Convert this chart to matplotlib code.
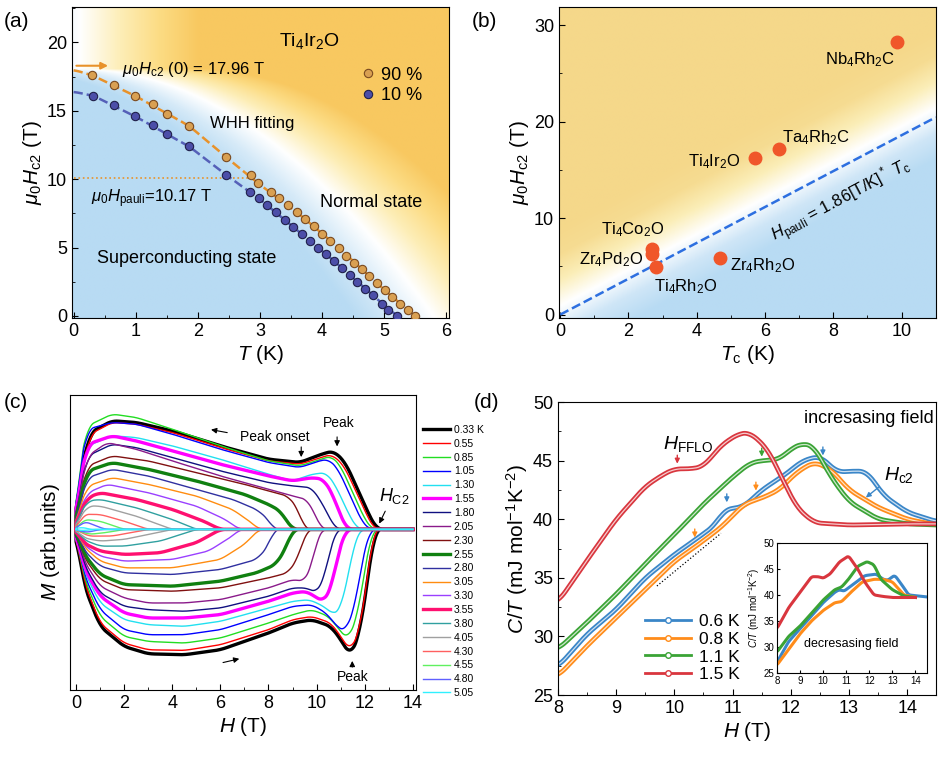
import numpy as np
import matplotlib
matplotlib.use("Agg")
import matplotlib.pyplot as plt
from matplotlib.colors import LinearSegmentedColormap
from matplotlib.ticker import MultipleLocator

plt.rcParams['font.family'] = ['Liberation Sans', 'DejaVu Sans']
plt.rcParams['mathtext.fontset'] = 'custom'
plt.rcParams['mathtext.rm'] = 'Liberation Sans'
plt.rcParams['mathtext.it'] = 'Liberation Sans:italic'

# ---------------- panel (a) data ----------------
a_T90 = [0.30, 0.65, 0.99, 1.28, 1.50, 1.86, 2.46, 2.86, 2.97, 3.18, 3.31, 3.46, 3.59, 3.73,
         3.87, 4.00, 4.13, 4.27, 4.39, 4.52, 4.64, 4.76, 4.88, 5.01, 5.13, 5.26, 5.38, 5.49]
a_H90 = [17.6, 16.9, 16.1, 15.5, 14.8, 13.9, 11.6, 10.3, 9.7, 9.1, 8.6, 8.1, 7.6, 7.1,
         6.6, 6.0, 5.5, 5.0, 4.4, 3.9, 3.4, 2.9, 2.4, 1.9, 1.4, 0.9, 0.4, 0.0]
a_T10 = [0.32, 0.65, 0.99, 1.28, 1.50, 1.86, 2.46, 2.84, 2.98, 3.12, 3.26, 3.40, 3.54, 3.67,
         3.80, 3.94, 4.07, 4.20, 4.32, 4.45, 4.57, 4.69, 4.82, 4.96, 5.07, 5.20]
a_H10 = [16.1, 15.4, 14.6, 14.0, 13.3, 12.4, 10.3, 9.1, 8.6, 8.1, 7.6, 7.0, 6.5, 6.0,
         5.5, 5.0, 4.5, 4.0, 3.5, 3.0, 2.5, 2.0, 1.5, 0.9, 0.4, 0.0]
fit90_T = [0.0, 0.30, 0.99, 1.86, 2.46, 2.97, 3.59, 4.27, 4.88, 5.49]
fit90_H = [18.0, 17.6, 16.1, 13.9, 11.6, 9.7, 7.6, 5.0, 2.4, 0.0]
fit10_T = [0.0, 0.32, 0.99, 1.86, 2.46, 2.98, 3.54, 4.20, 4.82, 5.20]
fit10_H = [16.4, 16.1, 14.6, 12.4, 10.3, 8.6, 6.5, 4.0, 1.5, 0.0]

# ---------------- panel (b) data ----------------
b_names = ["Nb$_4$Rh$_2$C", "Ta$_4$Rh$_2$C", "Ti$_4$Ir$_2$O", "Ti$_4$Co$_2$O",
           "Zr$_4$Pd$_2$O", "Ti$_4$Rh$_2$O", "Zr$_4$Rh$_2$O"]
b_Tc = [9.85, 6.4, 5.7, 2.68, 2.68, 2.8, 4.67]
b_Hc2 = [28.3, 17.2, 16.2, 6.8, 6.3, 4.9, 5.9]
b_pauli_T = [0.0, 11.0]

# ---------------- panel (c) data ----------------
c_temps = ["0.33 K", "0.55", "0.85", "1.05", "1.30", "1.55", "1.80", "2.05", "2.30", "2.55",
           "2.80", "3.05", "3.30", "3.55", "3.80", "4.05", "4.30", "4.55", "4.80", "5.05"]
c_up = [
    [(0,0),(0.15,1.6),(0.6,2.9),(1.5,3.25),(2.5,3.2),(4,2.95),(6,2.5),(8,2.1),(9.3,2.0),(10.2,2.25),(10.7,2.35),(11.2,2.0),(11.7,1.2),(12.2,0.4),(12.5,0),(14,0)],
    [(0,0),(0.15,1.5),(0.6,2.85),(1.5,3.2),(2.5,3.15),(4,2.9),(6,2.45),(8,2.05),(9.3,1.95),(10.2,2.15),(10.6,2.25),(11.1,1.95),(11.6,1.2),(12.1,0.4),(12.4,0),(14,0)],
    [(0,0),(0.1,1.8),(0.5,3.1),(1.5,3.45),(2.5,3.35),(4,3.0),(6,2.5),(8,2.05),(9.3,1.9),(10.2,2.1),(10.6,2.2),(11.0,1.9),(11.5,1.1),(12.0,0.3),(12.3,0),(14,0)],
    [(0,0),(0.1,1.7),(0.5,3.0),(1.5,3.2),(2.5,3.15),(4,2.85),(6,2.4),(8,2.0),(9.3,1.85),(10.1,2.05),(10.5,2.1),(10.9,1.8),(11.4,1.0),(11.9,0.2),(12.2,0),(14,0)],
    [(0,0),(0.1,1.4),(0.5,2.5),(1.5,2.8),(2.5,2.75),(4,2.5),(6,2.1),(8,1.65),(9,1.45),(9.8,1.65),(10.4,1.7),(10.8,1.3),(11.3,0.5),(11.7,0),(14,0)],
    [(0,0),(0.1,1.3),(0.5,2.55),(1.5,2.8),(2.5,2.65),(4,2.35),(6,1.95),(8,1.6),(9,1.45),(9.8,1.55),(10.3,1.5),(10.7,1.0),(11.1,0.2),(11.3,0),(14,0)],
    [(0,0),(0.1,1.1),(0.5,2.2),(1.5,2.55),(2.5,2.45),(4,2.15),(6,1.75),(8,1.4),(9,1.3),(9.8,1.25),(10.3,0.7),(10.7,0.1),(10.9,0),(14,0)],
    [(0,0),(0.1,1.0),(0.5,2.2),(1.3,2.6),(2.5,2.4),(4,2.05),(6,1.6),(8,1.2),(9,1.0),(9.6,0.9),(9.9,0.5),(10.2,0),(14,0)],
    [(0,0),(0.1,0.9),(0.5,1.9),(1.5,2.2),(3,2.05),(5,1.7),(7,1.35),(8,1.15),(8.8,1.0),(9.2,0.65),(9.5,0),(14,0)],
    [(0,0),(0.1,0.8),(0.5,1.75),(1.5,2.0),(3,1.8),(5,1.45),(7,1.05),(8,0.75),(8.5,0.55),(8.8,0.2),(9.0,0),(14,0)],
    [(0,0),(0.1,0.7),(0.5,1.55),(1.5,1.8),(3,1.6),(5,1.2),(6.5,0.9),(7.5,0.6),(8.0,0.3),(8.2,0),(14,0)],
    [(0,0),(0.1,0.6),(0.5,1.3),(1.5,1.55),(3,1.35),(5,1.0),(6.5,0.6),(7.3,0.2),(7.6,0),(14,0)],
    [(0,0),(0.1,0.5),(0.5,1.1),(1.3,1.35),(3,1.1),(5,0.7),(6.2,0.3),(6.8,0),(14,0)],
    [(0,0),(0.1,0.45),(0.5,0.95),(1.0,1.1),(2.5,0.9),(4,0.6),(5.3,0.25),(6.0,0),(14,0)],
    [(0,0),(0.1,0.4),(0.5,0.85),(1.0,0.9),(2.5,0.65),(4,0.3),(5.0,0),(14,0)],
    [(0,0),(0.1,0.3),(0.5,0.7),(1.0,0.7),(2.5,0.4),(4,0),(14,0)],
    [(0,0),(0.3,0.45),(1,0.45),(2,0.25),(3,0),(14,0)],
    [(0,0),(0.3,0.3),(1,0.25),(2,0),(14,0)],
    [(0,0),(0.3,0.25),(0.7,0.15),(1.2,0),(14,0)],
    [(0,0),(0.2,0.1),(0.5,0),(14,0)],
]
c_lo = [
    [(0,0),(0.3,-1.6),(1,-2.9),(2,-3.5),(3,-3.72),(4.5,-3.75),(6,-3.6),(8,-3.1),(9,-2.8),(9.8,-2.7),(10.6,-2.9),(11.1,-3.4),(11.4,-3.8),(11.8,-3.1),(12.1,-1.6),(12.4,0),(14,0)],
    [(0,0),(0.3,-1.5),(1,-2.8),(2,-3.4),(3,-3.6),(4.5,-3.62),(6,-3.45),(8,-3.0),(9,-2.7),(9.8,-2.6),(10.6,-2.8),(11.1,-3.3),(11.4,-3.65),(11.8,-3.0),(12.1,-1.5),(12.35,0),(14,0)],
    [(0,0),(0.3,-1.4),(1,-2.6),(2,-3.2),(3,-3.35),(4.5,-3.4),(6,-3.25),(8,-2.8),(9,-2.55),(9.8,-2.4),(10.5,-2.6),(11,-3.05),(11.3,-3.3),(11.7,-2.6),(12,-1.2),(12.3,0),(14,0)],
    [(0,0),(0.3,-1.3),(1,-2.4),(2,-3.0),(3,-3.15),(4.5,-3.15),(6,-3.0),(8,-2.55),(9,-2.3),(9.8,-2.25),(10.4,-2.5),(10.9,-2.95),(11.2,-3.05),(11.6,-2.3),(11.9,-0.9),(12.2,0),(14,0)],
    [(0,0),(0.3,-1.2),(1,-2.2),(2,-2.7),(3,-2.85),(4.5,-2.9),(6,-2.75),(8,-2.35),(9,-2.15),(9.7,-2.1),(10.3,-2.3),(10.7,-2.55),(11.0,-2.4),(11.3,-1.4),(11.6,-0.3),(11.8,0),(14,0)],
    [(0,0),(0.3,-1.1),(1,-2.0),(2,-2.5),(3,-2.65),(4.5,-2.65),(6,-2.55),(8,-2.15),(9,-1.9),(9.6,-1.85),(10.0,-2.05),(10.3,-2.15),(10.6,-1.8),(10.9,-0.7),(11.2,0),(14,0)],
    [(0,0),(0.3,-1.0),(1,-1.9),(2,-2.3),(3,-2.4),(4.5,-2.45),(6,-2.35),(8,-2.0),(9,-1.75),(9.6,-1.75),(10.0,-1.9),(10.3,-1.5),(10.6,-0.5),(10.8,0),(14,0)],
    [(0,0),(0.3,-0.9),(1,-1.7),(2,-2.05),(3,-2.2),(4.5,-2.2),(6,-2.1),(8,-1.75),(9,-1.5),(9.5,-1.55),(9.8,-1.1),(10.0,-0.3),(10.2,0),(14,0)],
    [(0,0),(0.3,-0.8),(1,-1.5),(2,-1.8),(4,-1.85),(6,-1.75),(8,-1.45),(8.8,-1.3),(9.2,-0.9),(9.5,-0.2),(9.6,0),(14,0)],
    [(0,0),(0.3,-0.7),(1,-1.35),(2,-1.65),(4,-1.7),(6,-1.55),(7.5,-1.3),(8.3,-1.05),(8.7,-0.6),(9.0,0),(14,0)],
    [(0,0),(0.3,-0.6),(1,-1.1),(2,-1.3),(4,-1.35),(6,-1.2),(7.5,-0.9),(8.0,-0.5),(8.2,0),(14,0)],
    [(0,0),(0.3,-0.5),(1,-0.95),(2,-1.15),(4,-1.15),(6,-0.9),(7,-0.45),(7.6,0),(14,0)],
    [(0,0),(0.3,-0.45),(1,-0.8),(2,-0.95),(4,-0.9),(5.5,-0.65),(6.5,-0.2),(6.8,0),(14,0)],
    [(0,0),(0.3,-0.4),(1,-0.65),(2,-0.75),(3.5,-0.7),(5,-0.4),(6.0,0),(14,0)],
    [(0,0),(0.3,-0.3),(1,-0.5),(2,-0.5),(3.5,-0.35),(5,0),(14,0)],
    [(0,0),(0.3,-0.25),(1,-0.35),(2,-0.3),(4,0),(14,0)],
    [(0,0),(0.5,-0.2),(1.5,-0.2),(3,0),(14,0)],
    [(0,0),(0.5,-0.15),(1.2,-0.1),(2,0),(14,0)],
    [(0,0),(0.4,-0.1),(1.0,0),(14,0)],
    [(0,0),(0.3,-0.05),(0.6,0),(14,0)],
]
c_colors = ["black", "red", "#22dd22", "blue", "#22e0f0", "#ff00ff", "#101080", "#8a1a8a",
            "#801010", "#108010", "#3030a0", "#ff8c10", "#9a40ff", "#ff1070", "#30a0a0",
            "#a0a0a0", "#ff6060", "#60f060", "#6060ff", "#30f0ff"]
c_thick = ["0.33 K", "1.55", "2.55", "3.55"]

# ---------------- panel (d) data ----------------
d_labels = ["0.6 K", "0.8 K", "1.1 K", "1.5 K"]
d_colors = ["#3a86c8", "#ff8c1a", "#3aa335", "#d9363e"]
d_H = [
    [8, 8.5, 9, 9.5, 10, 10.4, 10.7, 10.85, 11.2, 11.5, 11.9, 12.2, 12.5, 12.8, 13.0, 13.3, 13.6, 14, 14.5],
    [8, 8.5, 9, 9.5, 10, 10.4, 10.8, 11.2, 11.5, 11.8, 12.1, 12.4, 12.7, 13, 13.5, 14, 14.5],
    [8, 8.5, 9, 9.5, 10, 10.5, 11, 11.3, 11.5, 11.8, 12.0, 12.2, 12.4, 12.7, 13, 13.5, 14, 14.5],
    [8, 8.5, 9, 9.5, 9.8, 10.0, 10.3, 10.5, 10.8, 11.1, 11.3, 11.6, 11.9, 12.1, 12.4, 13, 14, 14.5],
]
d_C = [
    [27.4, 30.2, 32.3, 35.0, 37.0, 38.4, 39.5, 40.8, 41.1, 42.5, 43.8, 45.0, 45.4, 44.0, 44.1, 44.1, 42.0, 40.6, 39.8],
    [26.6, 29.2, 31.6, 34.0, 36.4, 37.8, 39.3, 41.3, 41.8, 42.5, 44.0, 44.9, 44.2, 42.5, 41.0, 40.0, 39.5],
    [28.9, 31.2, 33.6, 36.2, 38.7, 41.3, 43.6, 44.8, 45.0, 45.1, 46.0, 46.5, 46.2, 43.5, 41.5, 40.0, 39.6, 39.5],
    [32.9, 36.5, 40.0, 42.8, 43.8, 44.3, 44.3, 44.5, 46.3, 47.3, 47.4, 46.0, 43.0, 41.0, 39.7, 39.5, 39.6, 39.6],
]
ins_H = [
    [8, 8.5, 9, 9.5, 10, 10.5, 10.7, 10.9, 11.3, 11.8, 12.3, 12.6, 12.8, 13.1, 13.4, 13.7, 14.5],
    [8, 8.5, 9, 9.5, 10, 10.5, 10.8, 11.2, 11.7, 12.2, 12.6, 13, 13.5, 14],
    [8, 8.5, 9, 9.5, 10, 10.5, 10.8, 11.1, 11.5, 11.9, 12.2, 12.5, 13, 13.5, 14],
    [8, 8.5, 9, 9.5, 9.8, 10.0, 10.3, 10.7, 11.1, 11.5, 11.8, 12.2, 12.6, 13, 14],
]
ins_C = [
    [27.0, 31.0, 33.5, 36.0, 38.5, 40.5, 41.0, 40.7, 42.0, 43.7, 44.0, 43.0, 42.8, 43.8, 42.0, 40.0, 39.6],
    [26.5, 29.5, 32.5, 35.0, 37.0, 38.5, 38.7, 40.5, 42.5, 43.0, 43.0, 42.5, 40.0, 39.5],
    [29.0, 32.0, 34.0, 36.5, 39.0, 41.0, 41.5, 43.0, 45.5, 46.4, 45.8, 43.0, 41.0, 39.8, 39.5],
    [33.5, 37.5, 40.5, 43.5, 43.5, 43.2, 44.0, 46.3, 47.5, 45.0, 42.5, 40.0, 39.7, 39.5, 39.5],
]
# arrow tips (H, C/T) with colour index
d_arrows = [(10.05, 44.5, 3), (11.5, 45.1, 2), (10.9, 41.2, 0), (10.35, 38.2, 1),
            (11.4, 42.2, 1), (12.55, 45.2, 0)]


def smooth_curve(pts, n=1400, k=25):
    x = np.array([p[0] for p in pts])
    y = np.array([p[1] for p in pts])
    xf = np.linspace(0, 14, n)
    yf = np.interp(xf, x, y)
    pad = np.pad(yf, k, mode='edge')
    ys = np.convolve(pad, np.ones(2 * k + 1) / (2 * k + 1), mode='same')[k:-k]
    ys[0] = 0
    return xf, ys


def smooth_xy(x, y, n=600, k=12):
    xf = np.linspace(min(x), max(x), n)
    yf = np.interp(xf, x, y)
    pad = np.pad(yf, k, mode='edge')
    ys = np.convolve(pad, np.ones(2 * k + 1) / (2 * k + 1), mode='same')[k:-k]
    return xf, ys


def style(ax, size=12):
    ax.tick_params(direction='in', which='both', labelsize=size, top=False, right=False)
    ax.tick_params(which='major', length=4)
    ax.tick_params(which='minor', length=2)


bg_cmap = LinearSegmentedColormap.from_list(
    "bg", ["#b8dbf3", "#d6eaf8", "#ffffff", "#fdeeb8", "#fcdc84", "#f8c860"])

fig = plt.figure(figsize=(9.44, 7.7), dpi=100)

# ---------------- (a) ----------------
axa = fig.add_axes([0.076, 0.587, 0.400, 0.404])
gx, gy = np.meshgrid(np.linspace(-0.03, 6.05, 300), np.linspace(-0.15, 22.6, 300))
tb = 5.7 * np.sqrt(np.clip(1 - gy / 18.0, 0, None)) + 0.01
val = np.clip((gx - tb) / 2.0, -1, 1)
axa.imshow(val, extent=[-0.03, 6.05, -0.15, 22.6], origin='lower', aspect='auto',
           cmap=bg_cmap, vmin=-0.6, vmax=1, zorder=0)
fx, fy = smooth_xy(fit90_T, fit90_H)
axa.plot(fx, fy, '--', color="#e8922a", lw=1.8, zorder=2)
fx, fy = smooth_xy(fit10_T, fit10_H)
axa.plot(fx, fy, '--', color="#5560b8", lw=1.8, zorder=2)
axa.plot(a_T90, a_H90, 'o', ms=6, mfc="#d9a052", mec="#7a4a20", mew=0.8, label="90 %", zorder=3)
axa.plot(a_T10, a_H10, 'o', ms=6, mfc="#4c4ea8", mec="#20204a", mew=0.8, label="10 %", zorder=3)
axa.plot([0, 2.85], [10.07, 10.07], ':', color="#e8922a", lw=1.2, zorder=2)
axa.annotate("", xy=(0.6, 18.3), xytext=(0, 18.3),
             arrowprops=dict(arrowstyle='-|>', color="#e8922a", lw=1.5))
axa.text(0.78, 18.0, r"$\mu_0H_{\rm c2}$ (0) = 17.96 T", fontsize=12, va='center')
axa.text(0.28, 8.6, r"$\mu_0H_{\rm pauli}$=10.17 T", fontsize=12, va='center')
axa.text(2.2, 14.1, "WHH fitting", fontsize=12, va='center')
axa.text(3.3, 20.1, "Ti$_4$Ir$_2$O", fontsize=14, va='center')
axa.text(3.97, 8.3, "Normal state", fontsize=13, va='center')
axa.text(0.37, 4.2, "Superconducting state", fontsize=13, va='center')
axa.legend(loc='upper right', bbox_to_anchor=(0.97, 0.86), frameon=False, fontsize=13,
           handletextpad=0.3, handlelength=0.8, labelspacing=0.2)
axa.set_xlim(-0.03, 6.05)
axa.set_ylim(-0.15, 22.6)
axa.xaxis.set_major_locator(MultipleLocator(1))
axa.xaxis.set_minor_locator(MultipleLocator(0.5))
axa.yaxis.set_major_locator(MultipleLocator(5))
axa.yaxis.set_minor_locator(MultipleLocator(2.5))
style(axa, 13)
axa.set_xlabel("$T$ (K)", fontsize=15, labelpad=2)
axa.set_ylabel(r"$\mu_0H_{\rm c2}$ (T)", fontsize=15, labelpad=2)
fig.text(0.004, 0.985, "(a)", fontsize=15, va='top')

# ---------------- (b) ----------------
axb = fig.add_axes([0.592, 0.587, 0.400, 0.404])
gx, gy = np.meshgrid(np.linspace(-0.04, 11.02, 300), np.linspace(-0.35, 31.9, 300))
val = np.clip((gy - 1.86 * gx) / 9.0, -1, 1)
bcm = LinearSegmentedColormap.from_list(
    "bgb", ["#b8dbf3", "#cfe6f7", "#ffffff", "#fbeeb8", "#f6dc92", "#f5d88a"])
axb.imshow(val, extent=[-0.04, 11.02, -0.35, 31.9], origin='lower', aspect='auto',
           cmap=bcm, vmin=-0.5, vmax=1, zorder=0)
axb.plot(b_pauli_T, [1.86 * t for t in b_pauli_T], '--', color="#2d6fe0", lw=1.8, zorder=2)
axb.plot(b_Tc, b_Hc2, 'o', ms=9, color="#f0562a", zorder=3)
b_off = [(-2.1, -1.9), (0.1, 1.1), (-1.95, -0.3), (-1.5, 2.0), (-2.13, -0.6), (-0.05, -2.0), (0.3, -0.8)]
for n, t, h, (dx, dy) in zip(b_names, b_Tc, b_Hc2, b_off):
    axb.text(t + dx, h + dy, n, fontsize=12, va='center')
axb.text(6.3, 7.6, r"$H_{\rm pauli}$ = 1.86[T/K]$^*$ $T_{\rm c}$", fontsize=12, rotation=28,
         rotation_mode='anchor', ha='left', va='baseline')
axb.set_xlim(-0.04, 11.02)
axb.set_ylim(-0.35, 31.9)
axb.xaxis.set_major_locator(MultipleLocator(2))
axb.xaxis.set_minor_locator(MultipleLocator(1))
axb.yaxis.set_major_locator(MultipleLocator(10))
axb.yaxis.set_minor_locator(MultipleLocator(5))
style(axb, 13)
axb.set_xlabel("$T_{\\rm c}$ (K)", fontsize=15, labelpad=2)
axb.set_ylabel(r"$\mu_0H_{\rm c2}$ (T)", fontsize=15, labelpad=2)
fig.text(0.5, 0.985, "(b)", fontsize=15, va='top')

# ---------------- (c) ----------------
axc = fig.add_axes([0.074, 0.104, 0.367, 0.383])
for lab, up, lo, col in zip(c_temps, c_up, c_lo, c_colors):
    lw = 2.4 if lab in c_thick else 1.0
    x, y = smooth_curve(up)
    axc.plot(x, y, color=col, lw=lw, label=lab)
    x, y = smooth_curve(lo)
    axc.plot(x, y, color=col, lw=lw)
ak = dict(arrowstyle='-|>', color='black', lw=0.8, mutation_scale=8)
axc.annotate("", xy=(5.5, 3.0), xytext=(6.4, 2.88), arrowprops=ak)
axc.annotate("", xy=(6.9, -3.85), xytext=(6.0, -4.0), arrowprops=ak)
axc.annotate("", xy=(9.36, 2.08), xytext=(9.36, 2.55), arrowprops=ak)
axc.annotate("", xy=(10.85, 2.4), xytext=(10.85, 2.85), arrowprops=ak)
axc.annotate("", xy=(11.48, -3.85), xytext=(11.48, -4.2), arrowprops=ak)
axc.annotate("", xy=(12.55, 0.1), xytext=(12.9, 0.62), arrowprops=ak)
axc.text(6.8, 2.75, "Peak onset", fontsize=10, va='center')
axc.text(10.9, 3.18, "Peak", fontsize=10, va='center', ha='center')
axc.text(11.5, -4.4, "Peak", fontsize=10, va='center', ha='center')
axc.text(12.6, 1.0, "$H_{\\rm C2}$", fontsize=13, va='center')
axc.set_xlim(-0.25, 14.14)
axc.set_ylim(-4.8, 4.02)
axc.set_yticks([])
axc.xaxis.set_major_locator(MultipleLocator(2))
axc.xaxis.set_minor_locator(MultipleLocator(1))
style(axc, 13)
axc.set_xlabel("$H$ (T)", fontsize=15, labelpad=2)
axc.set_ylabel("$M$ (arb.units)", fontsize=15, labelpad=6)
axc.legend(loc='upper left', bbox_to_anchor=(1.0, 0.92), frameon=False, fontsize=7.5,
           handlelength=2.6, labelspacing=0.37, handletextpad=0.4, borderaxespad=0.2)
fig.text(0.004, 0.49, "(c)", fontsize=15, va='top')

# ---------------- (d) ----------------
axd = fig.add_axes([0.591, 0.0974, 0.401, 0.3805])
for lab, h, c, col in zip(d_labels, d_H, d_C, d_colors):
    x, y = smooth_xy(h, c)
    axd.plot(x, y, color=col, lw=3.4, solid_capstyle='round')
    axd.plot(x, y, color='white', lw=0.9, alpha=0.75)
    axd.plot([], [], color=col, lw=2, marker='o', ms=4, mfc='white', label=lab)
axd.plot([9.7, 10.8], [34.3, 38.8], ':', color='black', lw=0.9)
for h, c, ci in d_arrows:
    axd.annotate("", xy=(h, c), xytext=(h, c + 1.2),
                 arrowprops=dict(arrowstyle='-|>', color=d_colors[ci], lw=1.0, mutation_scale=7))
axd.annotate("", xy=(13.25, 41.7), xytext=(13.55, 42.9),
             arrowprops=dict(arrowstyle='-|>', color=d_colors[0], lw=1.0, mutation_scale=7))
axd.text(9.8, 46.4, "$H_{\\rm FFLO}$", fontsize=14, va='center')
axd.text(13.6, 43.8, "$H_{\\rm c2}$", fontsize=14, va='center')
axd.text(14.45, 48.6, "incresasing field", fontsize=13, va='center', ha='right')
axd.legend(loc='lower left', bbox_to_anchor=(0.19, -0.01), frameon=False, fontsize=12.5,
           handlelength=2.6, labelspacing=0.15, handletextpad=0.5)
axd.set_xlim(8, 14.5)
axd.set_ylim(25, 50)
axd.xaxis.set_major_locator(MultipleLocator(1))
axd.xaxis.set_minor_locator(MultipleLocator(0.5))
axd.yaxis.set_major_locator(MultipleLocator(5))
axd.yaxis.set_minor_locator(MultipleLocator(2.5))
style(axd, 13)
axd.set_xlabel("$H$ (T)", fontsize=15, labelpad=2)
axd.set_ylabel("$C/T$ (mJ mol$^{-1}$K$^{-2}$)", fontsize=15, labelpad=2)
fig.text(0.502, 0.49, "(d)", fontsize=15, va='top')

axi = fig.add_axes([0.823, 0.126, 0.159, 0.169])
for h, c, col in zip(ins_H, ins_C, d_colors):
    x, y = smooth_xy(h, c, k=8)
    axi.plot(x, y, color=col, lw=2.2)
axi.text(11.2, 30.6, "decresasing field", fontsize=9, ha='center', va='center')
axi.set_xlim(8, 14.5)
axi.set_ylim(25, 50)
axi.xaxis.set_major_locator(MultipleLocator(1))
axi.yaxis.set_major_locator(MultipleLocator(5))
axi.tick_params(direction='in', labelsize=7, length=2, pad=2)
axi.set_ylabel("$C/T$ (mJ mol$^{-1}$K$^{-2}$)", fontsize=7, labelpad=1)

fig.savefig("out.png", dpi=100)
